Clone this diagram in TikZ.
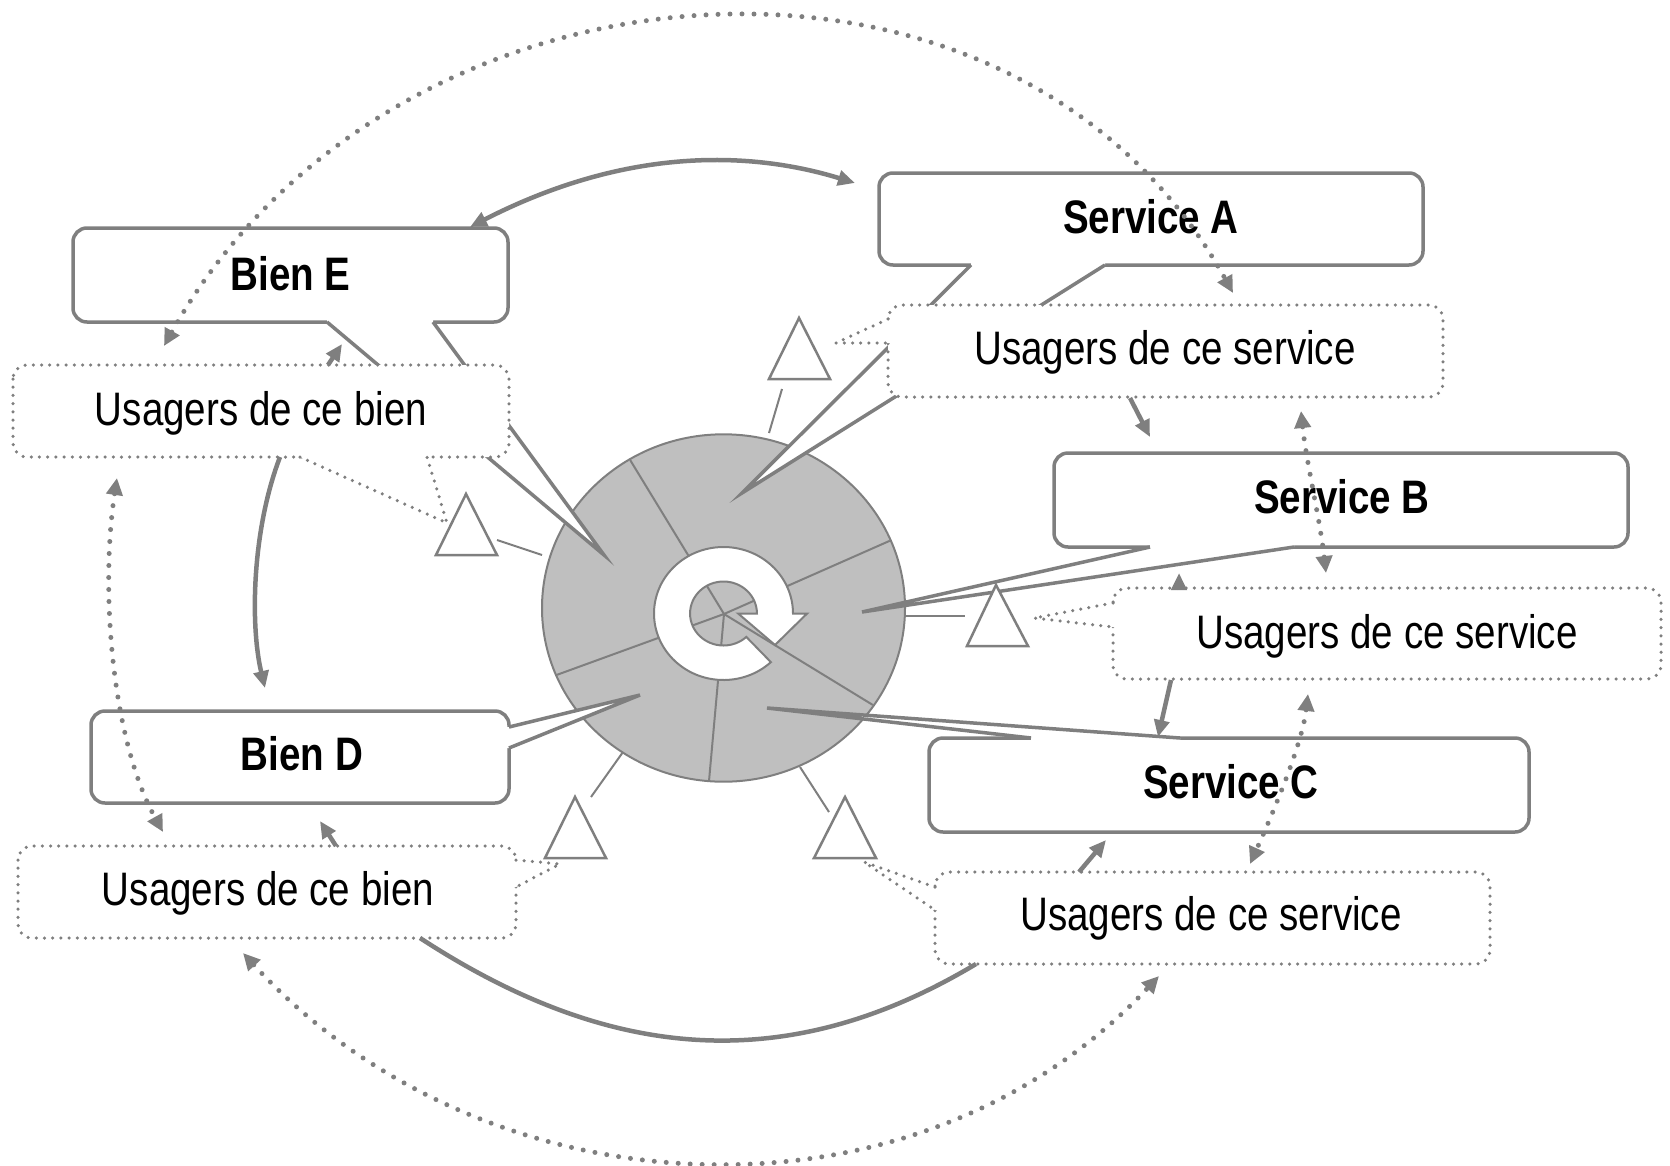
\documentclass[tikz,border=0pt]{standalone}
\usepackage{fontspec}
\setmainfont{Liberation Sans}
\newfontfamily\narrowfont[FakeStretch=0.82]{Liberation Sans}
\usetikzlibrary{arrows.meta}
\definecolor{lg}{HTML}{7F7F7F}
\definecolor{cg}{HTML}{BFBFBF}
\begin{document}
\begin{tikzpicture}[x=1pt,y=-1pt,
  boxst/.style={draw=lg, line width=3.5pt, fill=white, rounded corners=14pt},
  tailst/.style={draw=lg, line width=3.5pt, line join=miter},
  dboxst/.style={draw=lg, line width=3.5pt, fill=white, rounded corners=14pt, line cap=round, dash pattern=on 0pt off 8.2pt},
  dtailst/.style={draw=lg, line width=3.5pt, line cap=round, dash pattern=on 0pt off 8.2pt},
  trist/.style={draw=lg, line width=2.5pt, fill=white, line join=miter},
  rayst/.style={draw=lg, line width=2pt},
  sarr/.style={draw=lg, line width=4.5pt},
  darr/.style={draw=lg, line width=5pt, line cap=round, dash pattern=on 0pt off 12pt},
  lbl/.style={font=\narrowfont\fontsize{47}{56}\selectfont, anchor=base, inner sep=0pt},
  blbl/.style={font=\narrowfont\bfseries\fontsize{47}{56}\selectfont, anchor=base, inner sep=0pt}
]
\useasboundingbox (0,0) rectangle (1670,1165);

% ---------- central disc ----------
\coordinate (C) at (723.5,608);
\coordinate (O) at (724,614);
\draw[draw=lg, fill=cg, line width=2pt] (C) ellipse [x radius=181.5, y radius=173.7];
\begin{scope}
  \clip (C) ellipse [x radius=180.5, y radius=172.7];
  \foreach \a/\b in {623.6/449.3, 905.8/533.7, 540/681, 707.5/797.7, 887.6/714}
    \draw[rayst] (O) -- (\a,\b);
\end{scope}
% recycling icon
\begin{scope}[shift={(723.5,613.5)}, xscale=1.045, yscale=-1]
  \draw[draw=lg, fill=white, line width=2pt, line join=miter]
    (-47:66.5) arc[start angle=-47, end angle=-360, radius=66.5]
    -- (80,0) -- (49.3,-31.5) -- (14,0) -- (32,0)
    arc[start angle=0, end angle=313, radius=32] -- cycle;
\end{scope}

% ---------- short rays ----------
\draw[rayst] (497,540) -- (542,555);
\draw[rayst] (782,389) -- (769,433);
\draw[rayst] (905,616) -- (965,616);
\draw[rayst] (591,797) -- (623,752);
\draw[rayst] (800,767) -- (829,812);

% ---------- solid callouts ----------
% Bien E
\draw[boxst] (73,228) rectangle (508,322);
\fill[white] (327,322) -- (604,555) -- (433,322) -- (433,319) -- (327,319) -- cycle;
\draw[tailst] (327,322) -- (604,555) -- (433,322);
\node[blbl] (bienE) at (290.5,290) {Bien E};
% Service A
\draw[boxst] (879,173) rectangle (1423,265);
\fill[white] (971,265) -- (742,493) -- (1105,265) -- (1105,262) -- (971,262) -- cycle;
\draw[tailst] (971,265) -- (742,493) -- (1105,265);
\node[blbl] (servA) at (1151,233) {Service A};
% Service B
\draw[boxst] (1054,453) rectangle (1628,547);
\fill[white] (1150,547) -- (862,612) -- (1294,547) -- (1294,544) -- (1150,544) -- cycle;
\draw[tailst] (1150,547) -- (862,612) -- (1294,547);
\node[blbl] (servB) at (1342,513) {Service B};
% Service C
\draw[boxst] (929,738) rectangle (1529,832);
\fill[white] (1031,738) -- (767,708) -- (1180,738) -- (1180,741) -- (1031,741) -- cycle;
\draw[tailst] (1031,738) -- (767,708) -- (1180,738);
\node[blbl] (servC) at (1231,798) {Service C};
% Bien D
\draw[boxst] (91,711) rectangle (509,803);
\fill[white] (509,727) -- (640,695) -- (509,748) -- (506,748) -- (506,727) -- cycle;
\draw[tailst] (509,727) -- (640,695) -- (509,748);
\node[blbl] (bienD) at (302,770) {Bien D};

% ---------- triangles ----------
\draw[trist] (466,494) -- (436,555) -- (497,555) -- cycle;
\draw[trist] (799,318) -- (769,379) -- (830,379) -- cycle;
\draw[trist] (996,585) -- (967,646) -- (1028,646) -- cycle;
\draw[trist] (575,797) -- (545,858) -- (606,858) -- cycle;
\draw[trist] (845,797) -- (814,858) -- (876,858) -- cycle;

% ---------- dotted callouts (users) ----------
% users of Bien E
\draw[dboxst] (13,365) rectangle (509,457);
\fill[white] (300,457) -- (447,523) -- (427,457) -- (427,453) -- (300,453) -- cycle;
\draw[dtailst] (300,457) -- (447,523) -- (427,457);
\node[lbl] (uE) at (261,425) {Usagers de ce bien};
% users of Service A
\draw[dboxst] (888,305) rectangle (1443,397);
\fill[white] (888,319) -- (836,343) -- (888,343) -- (892,343) -- (892,319) -- cycle;
\draw[dtailst] (888,319) -- (836,343) -- (888,343);
\node[lbl] (uA) at (1165,364) {Usagers de ce service};
% users of Service B
\draw[dboxst] (1113,588) rectangle (1661,679);
\fill[white] (1113,603) -- (1034,618) -- (1113,627) -- (1117,627) -- (1117,603) -- cycle;
\draw[dtailst] (1113,603) -- (1034,618) -- (1113,627);
\node[lbl] (uB) at (1387,648) {Usagers de ce service};
% users of Bien D
\draw[dboxst] (18,846) rectangle (516,938);
\fill[white] (516,860) -- (560,864) -- (516,887) -- (512,887) -- (512,860) -- cycle;
\draw[dtailst] (516,860) -- (560,864) -- (516,887);
\node[lbl] (uD) at (268,905) {Usagers de ce bien};
% users of Service C
\draw[dboxst] (935,872) rectangle (1490,964);
\fill[white] (935,887) -- (864,862) -- (935,910) -- (939,910) -- (939,887) -- cycle;
\draw[dtailst] (935,887) -- (864,862) -- (935,910);
\node[lbl] (uC) at (1211,930) {Usagers de ce service};

% ---------- solid arrows ----------
\coordinate (sEa) at (470,227);
\coordinate (sAa) at (855,183);
\draw[sarr, {Triangle[length=17pt,width=15pt]}-{Triangle[length=17pt,width=15pt]}]
  (sEa) .. controls (630,145) and (754,152) .. (sAa);
\coordinate (uEb) at (280,457);
\coordinate (bDt) at (265,688);
\draw[sarr, -{Triangle[length=17pt,width=15pt]}]
  (uEb) .. controls (252,530) and (250,625) .. (bDt);
\coordinate (uDb) at (420,938);
\coordinate (uCb) at (976,964);
\draw[sarr] (uDb) .. controls (601,1056) and (779,1082) .. (uCb);
\draw[sarr, -{Triangle[length=17pt,width=15pt]}] (328,365) -- (342,344);
\draw[sarr, -{Triangle[length=17pt,width=15pt]}] (336,846) -- (320,821);
\draw[sarr, -{Triangle[length=17pt,width=15pt]}] (1130,398) -- (1150,437);
\draw[sarr, -{Triangle[length=17pt,width=15pt]}] (1179,590) -- (1179,573);
\draw[sarr, -{Triangle[length=17pt,width=15pt]}] (1171,680) -- (1158,737);
\draw[sarr, -{Triangle[length=17pt,width=15pt]}] (1079,872) -- (1106,840);

% ---------- dotted arrows ----------
\draw[darr, {Triangle[length=17pt,width=16pt]}-{Triangle[length=17pt,width=16pt]}]
  (164,346) .. controls (388,-55) and (1011,-108) .. (1233,293);
\draw[darr, {Triangle[length=17pt,width=16pt]}-{Triangle[length=17pt,width=16pt]}]
  (117,478) .. controls (100,590) and (112,740) .. (163,832);
\draw[darr, {Triangle[length=17pt,width=16pt]}-{Triangle[length=17pt,width=16pt]}]
  (243,953) .. controls (483,1215) and (912,1239) .. (1159,976);
\draw[darr, {Triangle[length=17pt,width=16pt]}-{Triangle[length=17pt,width=16pt]}]
  (1301,411) .. controls (1306,460) and (1320,520) .. (1326,573);
\draw[darr, {Triangle[length=17pt,width=16pt]}-{Triangle[length=17pt,width=16pt]}]
  (1308,694) .. controls (1302,745) and (1272,815) .. (1250,864);
\end{tikzpicture}
\end{document}
